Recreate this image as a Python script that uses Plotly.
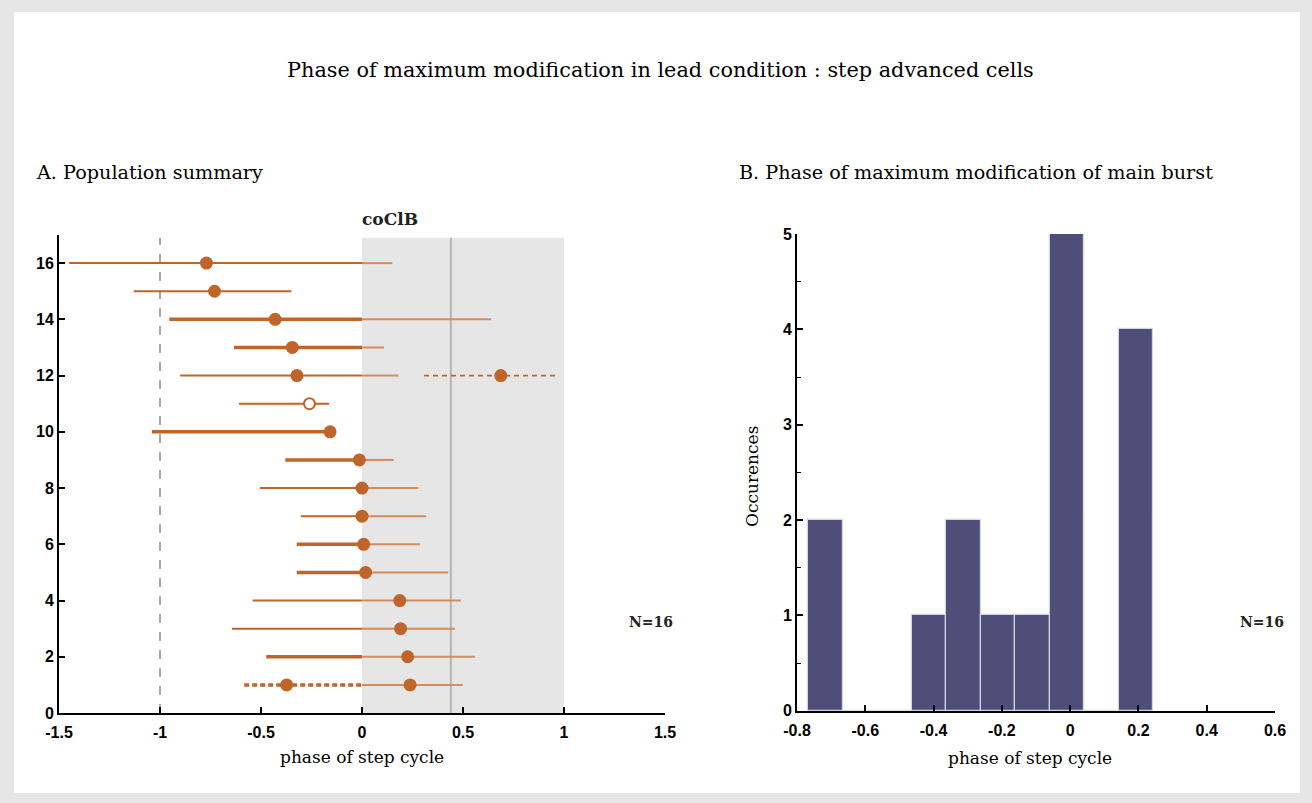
import plotly.graph_objects as go

# ---------------- data: panel A (population summary) ----------------
rows = [16, 15, 14, 13, 12, 11, 10, 9, 8, 7, 6, 5, 4, 3, 2, 1]
means = [-0.77, -0.73, -0.43, -0.345, -0.322, -0.26, -0.158, -0.013, 0.0, 0.0, 0.008, 0.018, 0.187, 0.191, 0.226, 0.238]
lows = [-1.45, -1.13, -0.954, -0.634, -0.90, -0.61, -1.04, -0.38, -0.505, -0.303, -0.323, -0.323, -0.541, -0.644, -0.474, 0.0]
highs = [0.15, -0.35, 0.64, 0.109, 0.18, -0.162, -0.158, 0.157, 0.279, 0.318, 0.287, 0.427, 0.489, 0.46, 0.559, 0.498]
thick_left = [False, False, True, True, False, False, True, True, False, False, True, True, False, False, True, False]
open_marker = [False, False, False, False, False, True, False, False, False, False, False, False, False, False, False, False]

# secondary (dashed) estimates
extra_rows = [12, 1]
extra_means = [0.687, -0.373]
extra_lows = [0.307, -0.583]
extra_highs = [0.969, 0.0]
extra_thick = [False, True]

coclb_start, coclb_end = 0.0, 1.0
coclb_mark = 0.44
ref_phase = -1.0

# ---------------- data: panel B (histogram) ----------------
bin_centers = [-0.7165, -0.6155, -0.5145, -0.4135, -0.3125, -0.2115, -0.1105, -0.0095, 0.0915, 0.1925]
bin_counts = [2, 0, 0, 1, 2, 1, 1, 5, 0, 4]
bin_width = 0.101

xA_ticks = [-1.5, -1, -0.5, 0, 0.5, 1, 1.5]
xA_labels = ["-1.5", "-1", "-0.5", "0", "0.5", "1", "1.5"]
yA_ticks = [0, 2, 4, 6, 8, 10, 12, 14, 16]
xB_ticks = [-0.8, -0.6, -0.4, -0.2, 0, 0.2, 0.4, 0.6]
xB_labels = ["-0.8", "-0.6", "-0.4", "-0.2", "0", "0.2", "0.4", "0.6"]
yB_ticks = [0, 1, 2, 3, 4, 5]

# ---------------- styling ----------------
W, H = 1312, 803
DARK = "#c0652a"
LIGHT = "#d38c5e"
BAR = "#4f4e78"
SERIF = "DejaVu Serif"
SANS = "Liberation Sans"


def px(x):
    return x / W


def py(y):
    return 1 - y / H


fig = go.Figure()

# build segments
groups = {"dark_thin": ([], []), "dark_thick": ([], []), "light_thin": ([], [])}
for r, lo, hi, tk in zip(rows, lows, highs, thick_left):
    if lo < 0:
        key = "dark_thick" if tk else "dark_thin"
        groups[key][0].extend([lo, min(hi, 0.0), None])
        groups[key][1].extend([r, r, None])
    if hi > 0:
        groups["light_thin"][0].extend([max(lo, 0.0), hi, None])
        groups["light_thin"][1].extend([r, r, None])

styles = {"dark_thin": (DARK, 2), "dark_thick": (DARK, 3.5), "light_thin": (LIGHT, 2)}
for key, (xs, ys) in groups.items():
    c, w = styles[key]
    fig.add_trace(go.Scatter(x=xs, y=ys, mode="lines", line=dict(color=c, width=w),
                             xaxis="x", yaxis="y", hoverinfo="skip", showlegend=False))

for r, lo, hi, tk in zip(extra_rows, extra_lows, extra_highs, extra_thick):
    fig.add_trace(go.Scatter(x=[lo, hi], y=[r, r], mode="lines",
                             line=dict(color=DARK, width=3.5 if tk else 1.8,
                                       dash="5px,3px" if tk else "5px,4px"),
                             xaxis="x", yaxis="y", hoverinfo="skip", showlegend=False))

fill_x = [m for m, o in zip(means, open_marker) if not o] + extra_means
fill_y = [r for r, o in zip(rows, open_marker) if not o] + extra_rows
fig.add_trace(go.Scatter(x=fill_x, y=fill_y, mode="markers",
                         marker=dict(color=DARK, size=13, line=dict(width=0)),
                         xaxis="x", yaxis="y", showlegend=False))
open_x = [m for m, o in zip(means, open_marker) if o]
open_y = [r for r, o in zip(rows, open_marker) if o]
fig.add_trace(go.Scatter(x=open_x, y=open_y, mode="markers",
                         marker=dict(color="white", size=11, line=dict(color=DARK, width=2)),
                         xaxis="x", yaxis="y", showlegend=False))

# histogram bars
fig.add_trace(go.Bar(x=bin_centers, y=bin_counts, width=bin_width,
                     marker=dict(color=BAR, line=dict(color="#d4d4e6", width=1.2)),
                     xaxis="x2", yaxis="y2", showlegend=False))

tickfont = dict(family=SANS, size=16, color="black", weight="bold")

shapes = [
    dict(type="rect", xref="paper", yref="paper", x0=px(14), x1=px(1300), y0=py(793), y1=py(12),
         fillcolor="white", line=dict(width=0), layer="below"),
    dict(type="rect", xref="x", yref="y", x0=coclb_start, x1=coclb_end, y0=0, y1=16.9,
         fillcolor="#e6e6e6", line=dict(width=0), layer="below"),
    dict(type="line", xref="x", yref="y", x0=coclb_mark, x1=coclb_mark, y0=0, y1=16.9,
         line=dict(color="#b4b4b4", width=2), layer="below"),
    dict(type="line", xref="x", yref="y", x0=ref_phase, x1=ref_phase, y0=0, y1=16.9,
         line=dict(color="#8a8a8a", width=1.5, dash="dash"), layer="below"),
]

annotations = [
    dict(text="Phase of maximum modification in lead condition : step advanced cells",
         x=px(660), y=py(70), xref="paper", yref="paper", showarrow=False,
         font=dict(family=SERIF, size=20.8, color="black"), xanchor="center", yanchor="middle"),
    dict(text="A. Population summary", x=px(34), y=py(173), xref="paper", yref="paper",
         showarrow=False, font=dict(family=SERIF, size=19.2, color="black"), xanchor="left", yanchor="middle"),
    dict(text="B. Phase of maximum modification of main burst", x=px(737), y=py(173), xref="paper",
         yref="paper", showarrow=False, font=dict(family=SERIF, size=19.2, color="black"),
         xanchor="left", yanchor="middle"),
    dict(text="<b>coClB</b>", x=px(390), y=py(219), xref="paper", yref="paper", showarrow=False,
         font=dict(family=SERIF, size=17, color="#222"), xanchor="center", yanchor="middle"),
    dict(text="phase of step cycle", x=px(362), y=py(757), xref="paper", yref="paper", showarrow=False,
         font=dict(family=SERIF, size=17, color="black"), xanchor="center", yanchor="middle"),
    dict(text="phase of step cycle", x=px(1030), y=py(758), xref="paper", yref="paper", showarrow=False,
         font=dict(family=SERIF, size=17, color="black"), xanchor="center", yanchor="middle"),
    dict(text="Occurences", x=px(752), y=py(476), xref="paper", yref="paper", showarrow=False,
         textangle=-90, font=dict(family=SERIF, size=17, color="black"), xanchor="center", yanchor="middle"),
    dict(text="<b>N=16</b>", x=px(651), y=py(622), xref="paper", yref="paper", showarrow=False,
         font=dict(family=SERIF, size=14, color="#222"), xanchor="center", yanchor="middle"),
    dict(text="<b>N=16</b>", x=px(1262), y=py(622), xref="paper", yref="paper", showarrow=False,
         font=dict(family=SERIF, size=14, color="#222"), xanchor="center", yanchor="middle"),
]

axis_common = dict(showline=True, linecolor="black", linewidth=2, showgrid=False, zeroline=False,
                   ticks="inside", tickcolor="black", tickwidth=1.5, ticklen=6, tickfont=tickfont)

fig.update_layout(
    width=W, height=H, margin=dict(l=0, r=0, t=0, b=0, pad=0, autoexpand=False),
    paper_bgcolor="#e6e6e6", plot_bgcolor="rgba(0,0,0,0)",
    xaxis=dict(domain=[px(59), px(665)], range=[-1.5, 1.5], tickvals=xA_ticks, ticktext=xA_labels,
               anchor="y", ticklabelstandoff=4, **axis_common),
    yaxis=dict(domain=[py(713), py(235)], range=[0, 17], tickvals=yA_ticks,
               ticktext=[str(v) for v in yA_ticks], anchor="x", **axis_common),
    xaxis2=dict(domain=[px(797), px(1275)], range=[-0.8, 0.6], tickvals=xB_ticks, ticktext=xB_labels,
                anchor="y2", ticklabelstandoff=4, **axis_common),
    yaxis2=dict(domain=[py(710.7), py(234)], range=[0, 5], tickvals=yB_ticks,
                ticktext=[str(v) for v in yB_ticks], anchor="x2",
                minor=dict(ticks="inside", dtick=0.5, ticklen=4, tickcolor="black", tickwidth=1.2),
                **axis_common),
    shapes=shapes, annotations=annotations, bargap=0,
)

fig.write_html("out.html")
